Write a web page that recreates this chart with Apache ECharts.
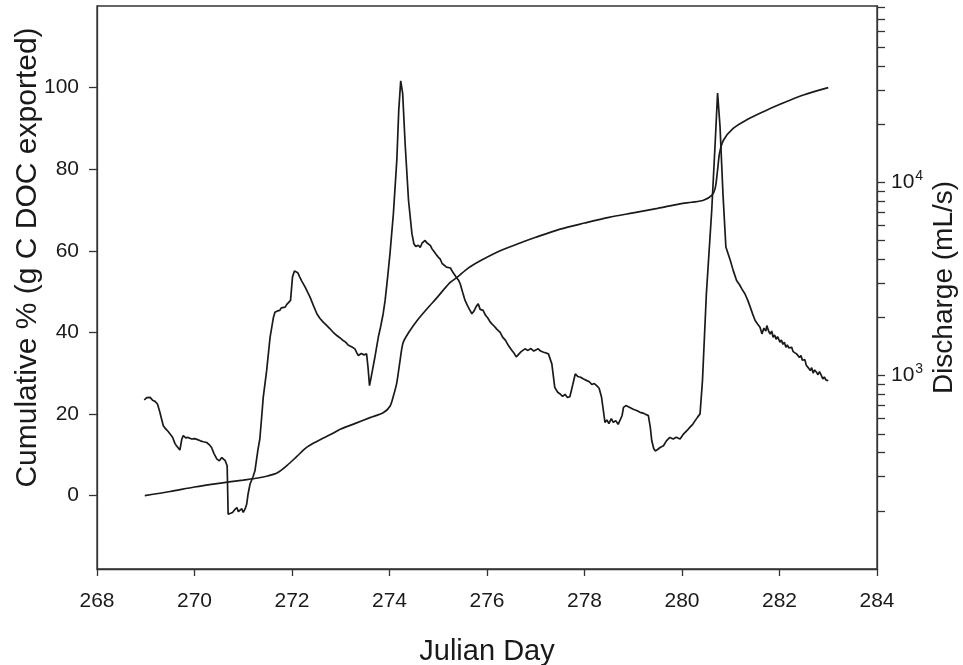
<!DOCTYPE html>
<html>
<head>
<meta charset="utf-8">
<title>Cumulative DOC export and discharge</title>
<script src="https://cdn.jsdelivr.net/npm/echarts@6/dist/echarts.min.js"></script>
<style>
  html, body { margin: 0; padding: 0; background: #fff; }
  #chart { width: 963px; height: 665px; }
</style>
</head>
<body>
<div id="chart"></div>
<script>
// Julian day and cumulative percentage of DOC exported (left axis)
const cumulativeDays = [268.98, 269.5, 270.0, 270.5, 271.0, 271.3, 271.5, 271.7, 271.9, 272.1, 272.3, 272.5, 272.8, 273.0, 273.3, 273.6, 273.87, 274.01, 274.08, 274.15, 274.22, 274.28, 274.39, 274.56, 274.83, 274.93, 275.24, 275.38, 275.62, 275.92, 276.27, 276.61, 277.0, 277.5, 278.0, 278.5, 279.0, 279.5, 279.96, 280.2, 280.44, 280.61, 280.68, 280.73, 280.77, 280.85, 281.05, 281.33, 281.67, 282.01, 282.49, 283.0];
const cumulativeValues = [0, 1.0, 2.1, 3.0, 3.8, 4.3, 4.8, 5.6, 7.4, 9.6, 11.8, 13.2, 15.0, 16.3, 17.7, 19.1, 20.3, 21.9, 24.4, 27.7, 33.4, 37.5, 39.9, 42.8, 46.6, 47.9, 52.2, 53.4, 55.8, 57.9, 60.0, 61.6, 63.3, 65.3, 66.8, 68.2, 69.3, 70.4, 71.5, 71.9, 72.4, 73.6, 75.3, 79.8, 83.9, 87.1, 90.0, 92.1, 94.1, 95.9, 98.2, 100];

// Julian day and stream discharge in mL/s (right, logarithmic axis)
const dischargeDays = [
  268.97, 269.02, 269.06, 269.09, 269.14, 269.19, 269.24, 269.29, 269.33, 269.36, 269.41, 269.46, 269.50, 269.55, 269.60, 269.63, 269.70, 269.74, 269.77, 269.82,
  269.87, 269.94, 270.00, 270.05, 270.12, 270.18, 270.25, 270.30, 270.35, 270.40, 270.46, 270.51, 270.56, 270.60, 270.63, 270.67, 270.69, 270.73, 270.78, 270.82,
  270.87, 270.90, 270.93, 270.97, 271.00, 271.04, 271.07, 271.10, 271.14, 271.20, 271.24, 271.30, 271.34, 271.38, 271.41, 271.48, 271.55, 271.62, 271.65, 271.70,
  271.75, 271.78, 271.82, 271.86, 271.89, 271.92, 271.97, 272.01, 272.05, 272.08, 272.12, 272.16, 272.20, 272.27, 272.32, 272.37, 272.44, 272.51, 272.57, 272.64,
  272.70, 272.78, 272.84, 272.92, 272.98, 273.05, 273.10, 273.15, 273.19, 273.24, 273.29, 273.33, 273.36, 273.42, 273.48, 273.53, 273.56, 273.59, 273.63, 273.70,
  273.77, 273.82, 273.87, 273.91, 273.96, 274.01, 274.08, 274.15, 274.19, 274.23, 274.27, 274.32, 274.39, 274.46, 274.50, 274.54, 274.59, 274.63, 274.67, 274.70,
  274.73, 274.76, 274.80, 274.84, 274.87, 274.91, 274.95, 275.00, 275.04, 275.08, 275.12, 275.17, 275.21, 275.25, 275.30, 275.34, 275.38, 275.42, 275.45, 275.50,
  275.55, 275.60, 275.64, 275.69, 275.73, 275.78, 275.82, 275.86, 275.92, 275.97, 276.02, 276.06, 276.10, 276.15, 276.20, 276.27, 276.32, 276.38, 276.44, 276.50,
  276.56, 276.60, 276.64, 276.70, 276.74, 276.78, 276.84, 276.90, 276.96, 277.05, 277.10, 277.16, 277.21, 277.26, 277.33, 277.39, 277.45, 277.50, 277.55, 277.60,
  277.65, 277.70, 277.76, 277.81, 277.86, 277.92, 277.98, 278.05, 278.10, 278.15, 278.20, 278.25, 278.30, 278.35, 278.38, 278.42, 278.46, 278.50, 278.55, 278.59,
  278.64, 278.69, 278.73, 278.77, 278.80, 278.85, 278.90, 278.93, 279.00, 279.07, 279.14, 279.20, 279.26, 279.31, 279.35, 279.38, 279.42, 279.45, 279.50, 279.55,
  279.62, 279.68, 279.75, 279.82, 279.88, 279.96, 280.02, 280.10, 280.16, 280.22, 280.27, 280.32, 280.37, 280.42, 280.50, 280.61, 280.68, 280.73, 280.78, 280.84,
  280.90, 280.99, 281.05, 281.12, 281.18, 281.23, 281.29, 281.35, 281.40, 281.45, 281.50, 281.55, 281.60, 281.64, 281.68, 281.72, 281.74, 281.78, 281.81, 281.84,
  281.87, 281.90, 281.93, 281.96, 282.01, 282.04, 282.07, 282.10, 282.13, 282.16, 282.19, 282.22, 282.25, 282.28, 282.31, 282.35, 282.38, 282.41, 282.44, 282.47,
  282.49, 282.52, 282.55, 282.58, 282.60, 282.63, 282.66, 282.69, 282.72, 282.76, 282.79, 282.82, 282.86, 282.89, 282.92, 282.95, 282.97, 283.00
];
const dischargeValues = [
  748, 770, 758, 772, 745, 736, 713, 646, 590, 551, 530, 514, 523, 480, 445, 434, 412, 470, 489, 476,
  479, 470, 472, 468, 460, 455, 451, 440, 425, 395, 370, 363, 377, 372, 363, 342, 192, 188, 196, 202,
  208, 198, 200, 205, 196, 205, 216, 245, 275, 300, 322, 412, 470, 620, 772, 1061, 1578, 2004, 2128, 2160,
  2173, 2240, 2200, 2260, 2330, 2307, 2448, 3231, 3470, 3499, 3400, 3231, 3080, 2870, 2700, 2547, 2300, 2089, 1980, 1890,
  1830, 1746, 1680, 1611, 1570, 1518, 1490, 1440, 1430, 1400, 1375, 1310, 1270, 1300, 1280, 1295, 1100, 887, 1000, 1244,
  1578, 1800, 2089, 2448, 3200, 4276, 6891, 13000, 23600, 33400, 28800, 15900, 8070, 5420, 4810, 4650, 4720, 4600, 4850, 4780,
  5000, 4880, 4910, 4700, 4530, 4400, 4250, 4100, 4000, 3800, 3850, 3640, 3560, 3600, 3420, 3365, 3200, 3100, 2985, 2700,
  2448, 2300, 2200, 2089, 2150, 2280, 2350, 2200, 2173, 2050, 1980, 1900, 1853, 1800, 1740, 1675, 1580, 1520, 1430, 1360,
  1300, 1250, 1222, 1330, 1360, 1375, 1350, 1380, 1340, 1375, 1340, 1320, 1310, 1295, 1150, 869, 820, 804, 780, 800,
  770, 778, 900, 1020, 990, 980, 960, 942, 930, 900, 910, 887, 860, 772, 680, 573, 590, 565, 600, 573,
  585, 560, 562, 620, 685, 700, 690, 685, 670, 660, 646, 640, 630, 621, 540, 460, 420, 408, 415, 425,
  434, 460, 479, 470, 480, 470, 495, 519, 540, 560, 585, 610, 634, 942, 2650, 7160, 15900, 28900, 19400, 8730,
  4620, 3945, 3500, 3105, 2950, 2800, 2650, 2450, 2260, 2080, 1928, 1850, 1778, 1644, 1760, 1700, 1815, 1690, 1640, 1700,
  1578, 1620, 1540, 1590, 1489, 1530, 1450, 1490, 1400, 1440, 1390, 1375, 1400, 1330, 1360, 1295, 1320, 1240, 1270, 1200,
  1172, 1210, 1130, 1150, 1090, 1062, 1100, 1030, 1070, 1040, 1010, 1050, 1000, 960, 985, 950, 961, 940
];

// Tick positions
const xTicks = { min: 268, max: 284, interval: 2 };
const leftTickValues = [0, 20, 40, 60, 80, 100];
const rightTickValues = [200, 300, 400, 500, 600, 700, 800, 900, 1000, 2000, 3000, 4000, 5000, 6000, 7000, 8000, 9000, 10000, 20000, 30000, 40000, 50000, 60000, 70000, 80000];
const rightLabelValues = [1000, 10000];

const inkColor = '#1a1a1a';
const axisColor = '#333333';
const fontFamily = 'Liberation Sans, Arial, sans-serif';

const cumulativeData = cumulativeDays.map((d, i) => [d, cumulativeValues[i]]);
const dischargeData = dischargeDays.map((d, i) => [d, dischargeValues[i]]);

const chart = echarts.init(document.getElementById('chart'), null, { renderer: 'canvas' });

chart.setOption({
  animation: false,
  backgroundColor: '#ffffff',
  textStyle: { fontFamily: fontFamily, color: inkColor },
  grid: {
    left: 97, right: 86, top: 6, bottom: 96,
    containLabel: false,
    outerBoundsMode: 'none',
    show: true, borderColor: axisColor, borderWidth: 1.3, backgroundColor: 'transparent'
  },
  xAxis: {
    type: 'value',
    min: xTicks.min, max: xTicks.max, interval: xTicks.interval,
    name: 'Julian Day',
    nameLocation: 'middle',
    nameGap: 68,
    nameTextStyle: { fontSize: 29, color: inkColor, fontFamily: fontFamily },
    axisLine: { show: true, onZero: false, lineStyle: { color: axisColor, width: 1.3 } },
    axisTick: { show: true, length: 7, lineStyle: { color: axisColor, width: 1.3 } },
    axisLabel: { fontSize: 21, color: inkColor, margin: 22, fontFamily: fontFamily },
    splitLine: { show: false }
  },
  yAxis: [
    {
      type: 'value',
      position: 'left',
      min: -18, max: 120,
      name: 'Cumulative % (g C DOC exported)',
      nameLocation: 'middle',
      nameRotate: 90,
      nameGap: 54,
      nameMoveOverlap: false,
      // extra left padding lifts the title slightly above the axis centre
      nameTextStyle: { fontSize: 30, color: inkColor, fontFamily: fontFamily, padding: [0, 0, 0, 60] },
      axisLine: { show: true, onZero: false, lineStyle: { color: axisColor, width: 1.3 } },
      axisTick: { show: true, length: 8, customValues: leftTickValues, lineStyle: { color: axisColor, width: 1.3 } },
      axisLabel: { fontSize: 21, color: inkColor, margin: 18, customValues: leftTickValues, fontFamily: fontFamily },
      splitLine: { show: false }
    },
    {
      type: 'log',
      logBase: 10,
      position: 'right',
      min: 100, max: 81500,
      name: 'Discharge (mL/s)',
      nameLocation: 'middle',
      nameRotate: 90,
      nameGap: 53,
      nameMoveOverlap: false,
      nameTextStyle: { fontSize: 28, color: inkColor, fontFamily: fontFamily },
      axisLine: { show: true, onZero: false, lineStyle: { color: axisColor, width: 1.3 } },
      axisTick: { show: true, length: 8, customValues: rightTickValues, lineStyle: { color: axisColor, width: 1.3 } },
      axisLabel: {
        margin: 14,
        customValues: rightLabelValues,
        formatter: function (v) {
          return '{base|10}{sup|' + Math.round(Math.log10(v)) + '}';
        },
        rich: {
          base: { fontSize: 21, color: inkColor, fontFamily: fontFamily },
          sup: { fontSize: 14, color: inkColor, fontFamily: fontFamily, padding: [0, 0, 12, 1] }
        }
      },
      minorTick: { show: false },
      splitLine: { show: false }
    }
  ],
  series: [
    {
      name: 'Cumulative %',
      type: 'line',
      xAxisIndex: 0,
      yAxisIndex: 0,
      data: cumulativeData,
      showSymbol: false,
      smooth: 0.3,
      lineStyle: { color: inkColor, width: 1.7 },
      z: 3
    },
    {
      name: 'Discharge',
      type: 'line',
      xAxisIndex: 0,
      yAxisIndex: 1,
      data: dischargeData,
      showSymbol: false,
      smooth: false,
      lineStyle: { color: inkColor, width: 1.7 },
      z: 2
    }
  ]
});
</script>
</body>
</html>
